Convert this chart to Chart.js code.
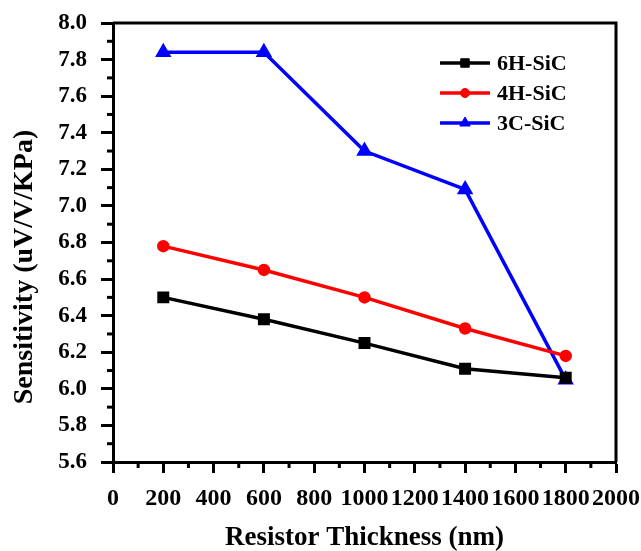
<!DOCTYPE html>
<html>
<head>
<meta charset="utf-8">
<script src="https://cdn.jsdelivr.net/npm/chart.js@4.4.1/dist/chart.umd.min.js"></script>
<style>
  html, body { margin: 0; padding: 0; background: #fff; }
  #wrap { width: 641px; height: 551px; }
</style>
</head>
<body>
<div id="wrap"><canvas id="myChart" width="641" height="551"></canvas></div>
<script>
// data
const thickness = [200, 600, 1000, 1400, 1800];
const sic6H = [6.50, 6.38, 6.25, 6.11, 6.06];
const sic4H = [6.78, 6.65, 6.50, 6.33, 6.18];
const sic3C = [7.84, 7.84, 7.30, 7.09, 6.05];
const seriesNames = ['6H-SiC', '4H-SiC', '3C-SiC'];
const xTitle = 'Resistor Thickness (nm)';
const yTitle = 'Sensitivity (uV/V/KPa)';

const FONT = "'Liberation Serif', 'Times New Roman', serif";

function points(vals) {
    return thickness.map(function(t, i) { return { x: t, y: vals[i] }; });
}

// box on top/right, minor ticks and the y title
const frame = {
    id: 'frame',
    afterDraw(chart) {
        const ctx = chart.ctx;
        const a = chart.chartArea;
        const xs = chart.scales.x;
        const ys = chart.scales.y;
        ctx.save();
        ctx.strokeStyle = '#000';
        ctx.lineWidth = 3;
        ctx.beginPath();
        ctx.moveTo(a.left, a.top);
        ctx.lineTo(a.right, a.top);
        ctx.lineTo(a.right, a.bottom);
        ctx.stroke();
        for (let v = 100; v < 2000; v += 200) {
            const px = xs.getPixelForValue(v);
            ctx.beginPath();
            ctx.moveTo(px, a.bottom);
            ctx.lineTo(px, a.bottom + 6);
            ctx.stroke();
        }
        for (let v = 5.7; v < 8.0; v += 0.2) {
            const py = ys.getPixelForValue(v);
            ctx.beginPath();
            ctx.moveTo(a.left, py);
            ctx.lineTo(a.left - 6, py);
            ctx.stroke();
        }
        // y title sits a bit below the middle in the original
        ctx.translate(25, 267);
        ctx.rotate(-Math.PI / 2);
        ctx.fillStyle = '#000';
        ctx.font = 'bold 28px ' + FONT;
        ctx.textAlign = 'center';
        ctx.textBaseline = 'middle';
        ctx.fillText(yTitle, 0, 0);
        ctx.restore();
    }
};

// legend inside the plot, upper right
const innerLegend = {
    id: 'innerLegend',
    afterDraw(chart) {
        const ctx = chart.ctx;
        const x0 = 440, x1 = 490;
        let y = 63;
        ctx.save();
        chart.data.datasets.forEach(function(ds) {
            ctx.strokeStyle = ds.borderColor;
            ctx.fillStyle = ds.borderColor;
            ctx.lineWidth = 3.5;
            ctx.beginPath();
            ctx.moveTo(x0, y);
            ctx.lineTo(x1, y);
            ctx.stroke();
            ctx.lineWidth = 1;
            Chart.helpers.drawPoint(ctx, {
                pointStyle: ds.pointStyle,
                radius: ds.pointRadius,
                borderWidth: 1
            }, (x0 + x1) / 2, y);
            ctx.fillStyle = '#000';
            ctx.font = 'bold 22px ' + FONT;
            ctx.textBaseline = 'middle';
            ctx.textAlign = 'left';
            ctx.fillText(ds.label, x1 + 7, y + 1);
            y += 30;
        });
        ctx.restore();
    }
};

function dataset(label, vals, color, style, r) {
    return {
        label: label,
        data: points(vals),
        borderColor: color,
        backgroundColor: color,
        pointBackgroundColor: color,
        pointBorderColor: color,
        borderWidth: 3.5,
        pointStyle: style,
        pointRadius: r,
        pointHoverRadius: r,
        tension: 0
    };
}

const config = {
    type: 'line',
    data: {
        datasets: [
            dataset(seriesNames[0], sic6H, '#000000', 'rect', 6),
            dataset(seriesNames[1], sic4H, '#ff0000', 'circle', 4.5),
            dataset(seriesNames[2], sic3C, '#0000ff', 'triangle', 6)
        ]
    },
    options: {
        responsive: false,
        animation: false,
        layout: { padding: { top: 23, right: 25, left: 0, bottom: 0 } },
        plugins: {
            legend: { display: false },
            tooltip: { enabled: false }
        },
        scales: {
            x: {
                type: 'linear',
                min: 0,
                max: 2000,
                afterFit: function(s) {
                    s.height = 89;
                    s.paddingLeft = 0;
                    s.paddingRight = 0;
                },
                border: { color: '#000', width: 3 },
                grid: {
                    drawOnChartArea: false,
                    drawTicks: true,
                    tickLength: 11,
                    tickWidth: 3,
                    tickColor: '#000'
                },
                ticks: {
                    stepSize: 200,
                    maxRotation: 0,
                    autoSkip: false,
                    color: '#000',
                    padding: 11,
                    font: { family: FONT, size: 24, weight: 'bold' },
                    callback: function(v) { return String(v); }
                },
                title: {
                    display: true,
                    text: xTitle,
                    color: '#000',
                    padding: { top: 0, bottom: -3 },
                    font: { family: FONT, size: 27, weight: 'bold' }
                }
            },
            y: {
                min: 5.6,
                max: 8.0,
                afterFit: function(s) {
                    s.width = 113;
                    s.paddingTop = 0;
                    s.paddingBottom = 0;
                },
                border: { color: '#000', width: 3 },
                grid: {
                    drawOnChartArea: false,
                    drawTicks: true,
                    tickLength: 12,
                    tickWidth: 3,
                    tickColor: '#000'
                },
                ticks: {
                    stepSize: 0.2,
                    color: '#000',
                    padding: 14,
                    font: { family: FONT, size: 23, weight: 'bold' },
                    callback: function(v) { return Number(v).toFixed(1); }
                },
                title: { display: false }
            }
        }
    },
    plugins: [frame, innerLegend]
};

const myChart = new Chart(document.getElementById('myChart'), config);
</script>
</body>
</html>
